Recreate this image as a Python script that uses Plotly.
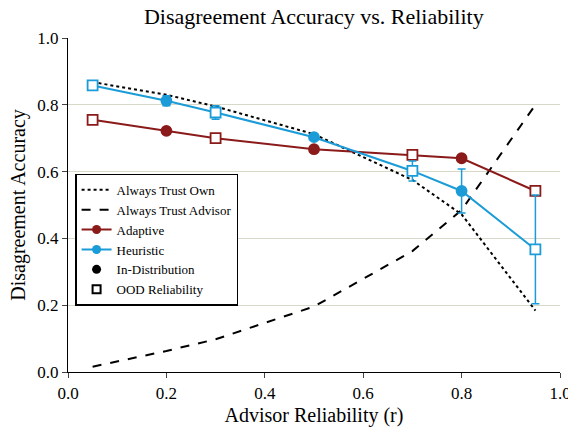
import plotly.graph_objects as go

# Advisor reliability levels evaluated
reliability = [0.05, 0.2, 0.3, 0.5, 0.7, 0.8, 0.95]
# True where the reliability level was seen in training
in_distribution = [False, True, False, True, False, True, False]

always_trust_own = [0.868, 0.830, 0.795, 0.712, 0.575, 0.472, 0.184]
always_trust_advisor = [0.016, 0.063, 0.098, 0.196, 0.362, 0.485, 0.800]

adaptive = [0.755, 0.722, 0.700, 0.667, 0.650, 0.640, 0.542]
adaptive_err = [0.003, 0.008, 0.005, 0.005, 0.008, 0.008, 0.004]

heuristic = [0.858, 0.812, 0.777, 0.703, 0.602, 0.542, 0.367]
heuristic_err = [0.005, 0.015, 0.020, 0.007, 0.030, 0.066, 0.163]

RED = "#8B1A1A"
BLUE = "#1B9BD7"
FONT = "Liberation Serif"

fig = go.Figure()

# Baselines
fig.add_trace(go.Scatter(
    x=reliability, y=always_trust_own, mode="lines", name="Always Trust Own",
    line=dict(color="black", width=2, dash="dot")))
fig.add_trace(go.Scatter(
    x=reliability, y=always_trust_advisor, mode="lines", name="Always Trust Advisor",
    line=dict(color="black", width=2, dash="dash")))


def method_trace(values, errors, color, name):
    symbols = ["circle" if ind else "square" for ind in in_distribution]
    fills = [color if ind else "#ffffff" for ind in in_distribution]
    return go.Scatter(
        x=reliability, y=values, mode="lines+markers", name=name, showlegend=False,
        line=dict(color=color, width=2),
        marker=dict(symbol=symbols, color=fills, size=10, opacity=1,
                    line=dict(color=color, width=1.8)),
        error_y=dict(type="data", array=errors, visible=True,
                     color=color, thickness=1.5, width=4),
    )


fig.add_trace(method_trace(adaptive, adaptive_err, RED, "Adaptive"))
fig.add_trace(method_trace(heuristic, heuristic_err, BLUE, "Heuristic"))

# Legend-only entries
fig.add_trace(go.Scatter(
    x=[None], y=[None], mode="lines+markers", name="Adaptive",
    line=dict(color=RED, width=2), marker=dict(symbol="circle", color=RED, size=9)))
fig.add_trace(go.Scatter(
    x=[None], y=[None], mode="lines+markers", name="Heuristic",
    line=dict(color=BLUE, width=2), marker=dict(symbol="circle", color=BLUE, size=9)))
fig.add_trace(go.Scatter(
    x=[None], y=[None], mode="markers", name="In-Distribution",
    marker=dict(symbol="circle", color="black", size=9)))
fig.add_trace(go.Scatter(
    x=[None], y=[None], mode="markers", name="OOD Reliability",
    marker=dict(symbol="square", color="white", size=8,
                line=dict(color="black", width=2))))

ticks = [0, 0.2, 0.4, 0.6, 0.8, 1.0]
tick_text = ["0.0", "0.2", "0.4", "0.6", "0.8", "1.0"]

fig.update_layout(
    width=568, height=429,
    margin=dict(l=68, r=8, t=38, b=57, autoexpand=False),
    paper_bgcolor="white", plot_bgcolor="white",
    font=dict(family=FONT, color="black", size=14),
    title=dict(text="Disagreement Accuracy vs. Reliability", x=0.5525, xanchor="center",
               y=0.962, yanchor="middle", font=dict(size=22)),
    legend=dict(x=0.015, y=0.594, xanchor="left", yanchor="top",
                bordercolor="black", borderwidth=1.2, bgcolor="white",
                font=dict(size=13), traceorder="normal", tracegroupgap=0),
    xaxis=dict(range=[0, 1], tickvals=ticks, ticktext=tick_text, automargin=False,
               showgrid=False, zeroline=False, showline=True, linecolor="black",
               linewidth=1.2, ticks="outside", ticklen=5, tickwidth=1.2,
               tickfont=dict(size=17), ticklabeloverflow="allow",
               title=dict(text="Advisor Reliability (r)", font=dict(size=20), standoff=6)),
    yaxis=dict(range=[0, 1], tickvals=ticks, ticktext=tick_text, automargin=False,
               showgrid=True, gridcolor="#d8d8c8", gridwidth=1, zeroline=False,
               showline=True, linecolor="black", linewidth=1.2,
               ticks="outside", ticklen=5, tickwidth=1.2, tickfont=dict(size=17),
               title=dict(text="Disagreement Accuracy", font=dict(size=20), standoff=6)),
)

fig.write_html("out.html")
